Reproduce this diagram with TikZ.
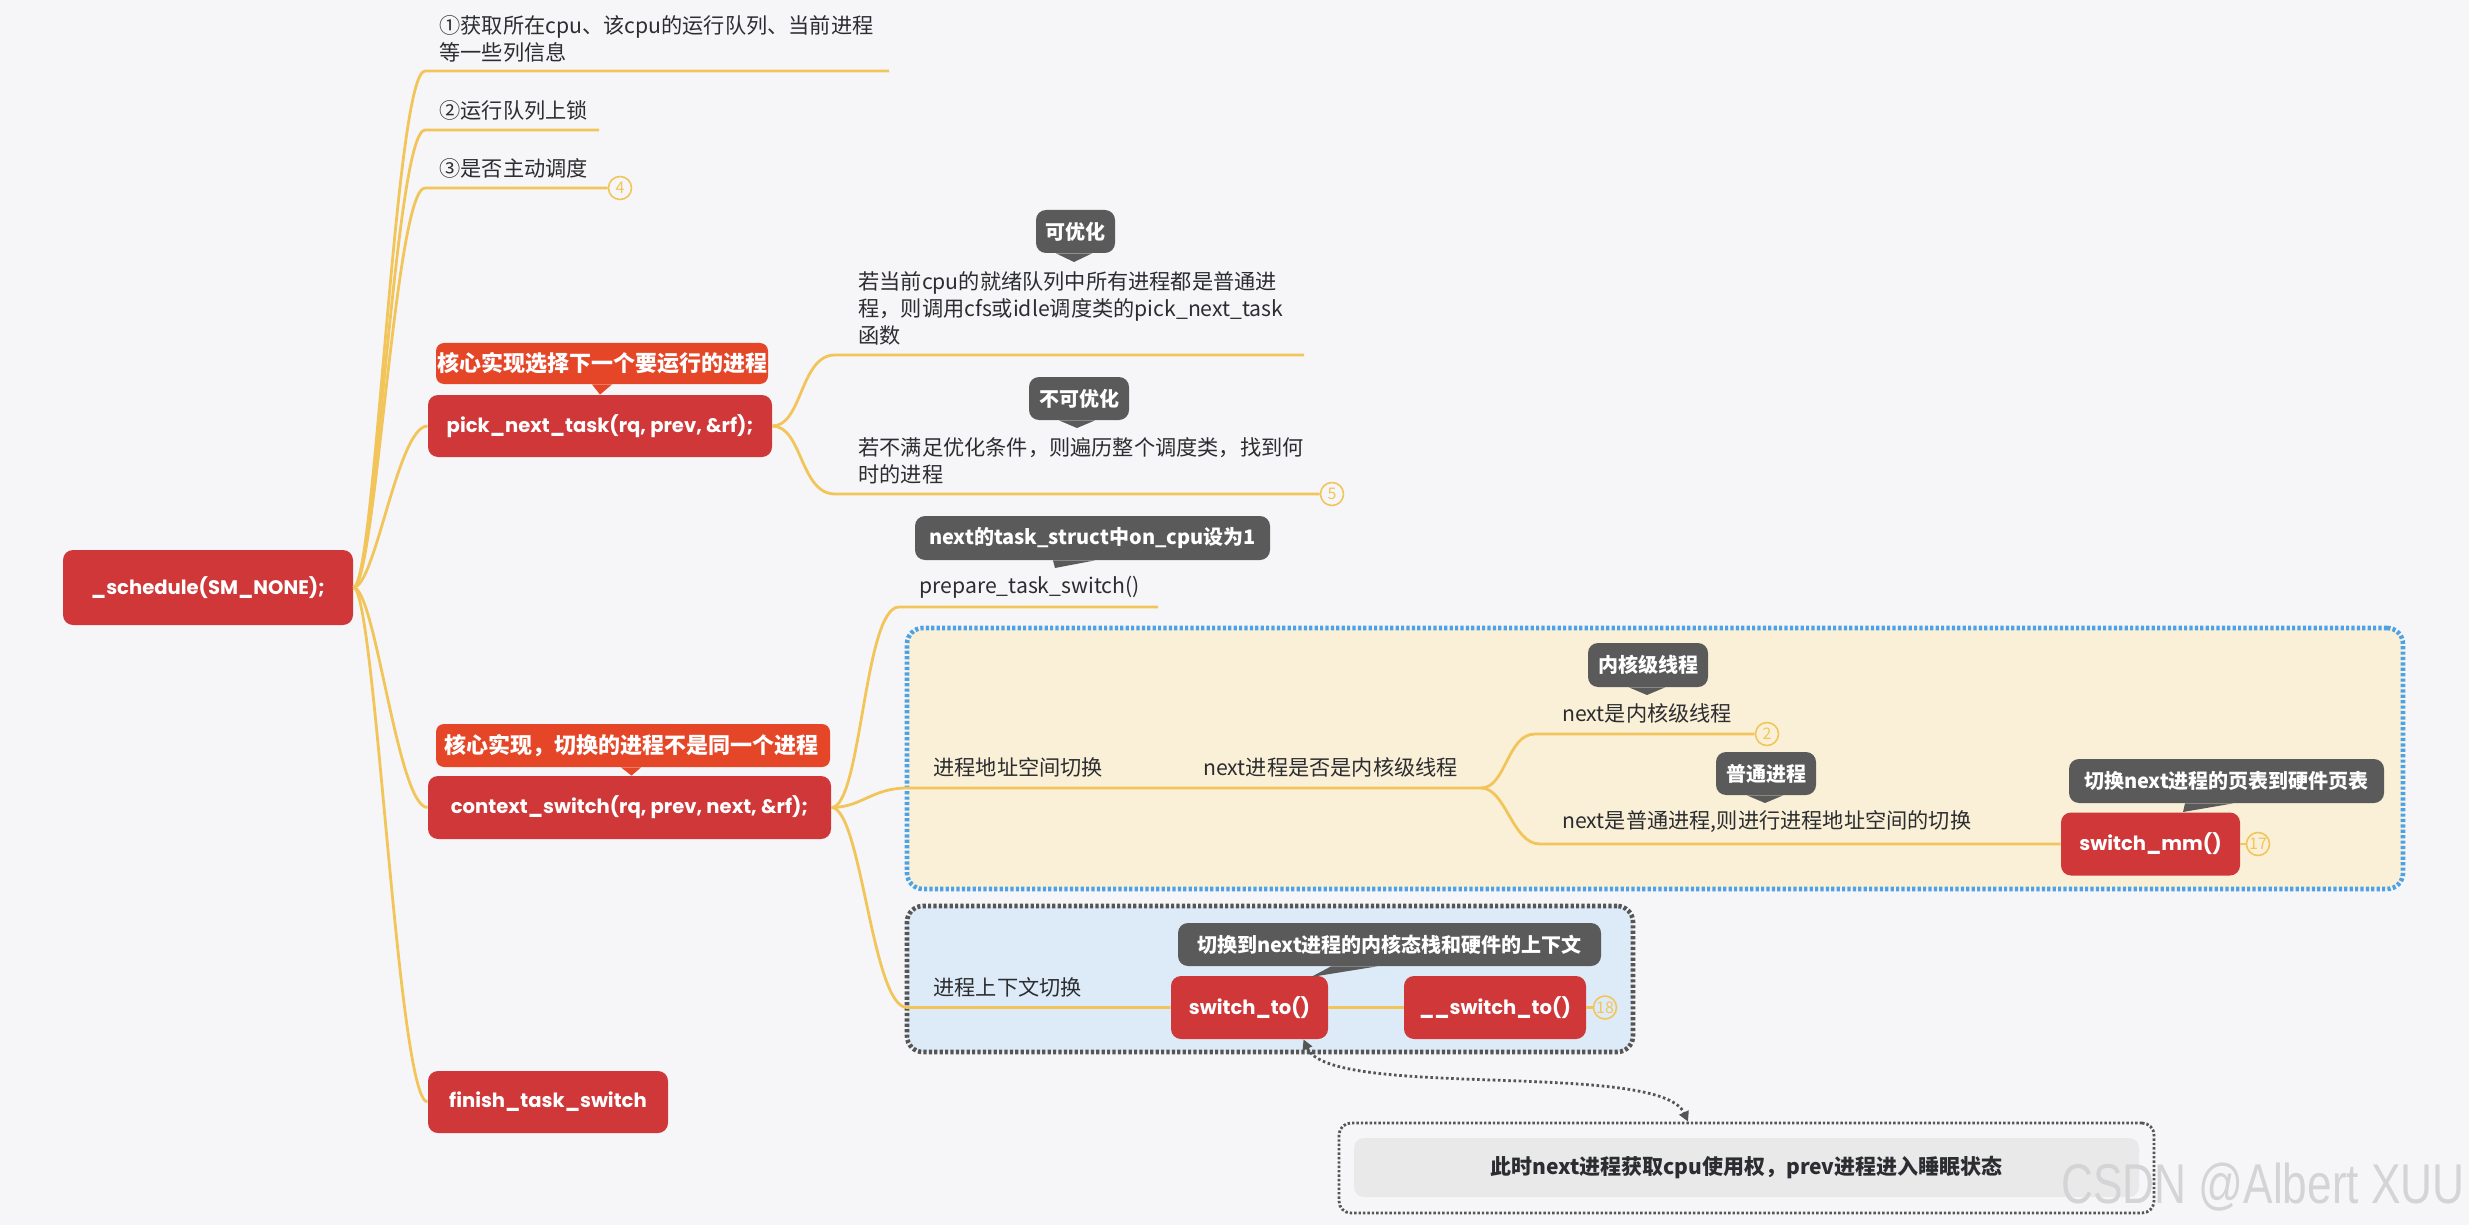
\documentclass[tikz,border=0pt]{standalone}
\usepackage{fontspec}
\setmainfont{Noto Sans CJK SC}
\newfontfamily\latfont{Poppins}
\newfontfamily\wmfont{Liberation Sans}
\usetikzlibrary{arrows.meta,calc}
\definecolor{bgc}{HTML}{F6F6F8}
\definecolor{redc}{HTML}{CF3739}
\definecolor{orgc}{HTML}{E64628}
\definecolor{dgc}{HTML}{5A5A5A}
\definecolor{ylc}{HTML}{F2C55B}
\definecolor{txc}{HTML}{2C2D30}
\definecolor{bluec}{HTML}{4CA2E6}
\definecolor{creamc}{HTML}{FAF0D8}
\definecolor{lbluec}{HTML}{DDEBF8}
\definecolor{greyb}{HTML}{555555}
\definecolor{notec}{HTML}{E9E9EA}
\definecolor{wmc}{HTML}{D4D4D6}
\begin{document}
\begin{tikzpicture}[x=0.5pt,y=-0.5pt,
  mainnode/.style={fill=redc, text=white, rounded corners=5pt, font=\latfont\bfseries\fontsize{9.8}{12}\selectfont, inner sep=0pt, align=center},
  lblnode/.style={fill=orgc, text=white, rounded corners=4pt, font=\bfseries\fontsize{11}{13}\selectfont, inner sep=0pt},
  callout/.style={fill=dgc, text=white, rounded corners=5pt, font=\bfseries\fontsize{10}{12}\selectfont, inner sep=0pt},
  txt/.style={text=txc, font=\fontsize{10.6}{13.5}\selectfont, inner sep=0pt, anchor=west, align=left},
  conn/.style={draw=ylc, line width=1.4pt},
  numc/.style={circle, draw=ylc, line width=0.8pt, text=ylc, minimum size=11.5pt, inner sep=0pt, font=\fontsize{8}{9}\selectfont},
  ptr/.style={fill=dgc},
  ptro/.style={fill=orgc}
]
\useasboundingbox[fill=bgc] (0,0) rectangle (2469,1225);

% group boxes
\node[draw=bluec, fill=creamc, line width=2.3pt, dash pattern=on 1.6pt off 1.1pt, rounded corners=8pt, minimum width=748pt, minimum height=130.5pt, inner sep=0pt] (gaddr) at (1655,758.5) {};
\node[draw=greyb, fill=lbluec, line width=2.3pt, dash pattern=on 1.6pt off 1.1pt, rounded corners=8pt, minimum width=363pt, minimum height=73pt, inner sep=0pt] (gctx) at (1270,979) {};

% main nodes
\node[mainnode, minimum width=145pt, minimum height=37.5pt] (root) at (208,587.5) {\_schedule(SM\_NONE);};
\node[mainnode, minimum width=172pt, minimum height=31pt] (pick) at (600,426) {pick\_next\_task(rq, prev, \&rf);};
\node[mainnode, minimum width=201.5pt, minimum height=31.5pt] (ctx) at (629.5,807.5) {context\_switch(rq, prev, next, \&rf);};
\node[mainnode, minimum width=120pt, minimum height=31pt] (fin) at (548,1102) {finish\_task\_switch};
\node[mainnode, minimum width=89.5pt, minimum height=31.5pt] (smm) at (2150.5,844) {switch\_mm()};
\node[mainnode, minimum width=78.5pt, minimum height=31.5pt] (sto) at (1249.5,1007.5) {switch\_to()};
\node[mainnode, minimum width=91pt, minimum height=31.5pt] (usto) at (1495,1007.5) {\_\_switch\_to()};

% orange labels
\node[lblnode, minimum width=166pt, minimum height=20.5pt] (lpick) at (602,363.5) {核心实现选择下一个要运行的进程};
\node[lblnode, minimum width=197pt, minimum height=21.5pt, text width=189pt, align=left] (lctx) at (633,745.5) {核心实现，切换的进程不是同一个进程};
\fill[ptro] ([xshift=-5pt]lpick.south) -- ([xshift=5pt]lpick.south) -- (pick.north) -- cycle;
\fill[ptro] ([xshift=-6pt]lctx.south) -- ([xshift=4pt]lctx.south) -- ([xshift=1pt]ctx.north) -- cycle;

% callouts
\node[callout, minimum width=39.5pt, minimum height=21.5pt] (co1) at (1075.5,231.5) {可优化};
\node[callout, minimum width=50pt, minimum height=21.5pt] (co2) at (1079,398.5) {不可优化};
\node[callout, minimum width=177.5pt, minimum height=22pt] (co3) at (1092.5,538) {next的task\_struct中on\_cpu设为1};
\node[callout, minimum width=60pt, minimum height=22pt] (co4) at (1648,665) {内核级线程};
\node[callout, minimum width=50pt, minimum height=21.5pt] (co5) at (1766,773.5) {普通进程};
\node[callout, minimum width=157.5pt, minimum height=22pt] (co6) at (2226.5,781) {切换next进程的页表到硬件页表};
\node[callout, minimum width=211.5pt, minimum height=21.5pt] (co7) at (1389.5,944.5) {切换到next进程的内核态栈和硬件的上下文};

\coordinate (tp1) at (1074,262);
\coordinate (tp2) at (1077,428);
\coordinate (tp3) at (1055,568);
\coordinate (tp4) at (1647,695);
\coordinate (tp5) at (1765,803);
\coordinate (tp6) at (2183,812);
\coordinate (tp7) at (1311,977);
\fill[ptr] ([xshift=-9]tp1 |- co1.south) -- ([xshift=9]tp1 |- co1.south) -- (tp1) -- cycle;
\fill[ptr] ([xshift=-9]tp2 |- co2.south) -- ([xshift=9]tp2 |- co2.south) -- (tp2) -- cycle;
\fill[ptr] ([xshift=-1]tp3 |- co3.south) -- ([xshift=20]tp3 |- co3.south) -- (tp3) -- cycle;
\fill[ptr] ([xshift=-9]tp4 |- co4.south) -- ([xshift=9]tp4 |- co4.south) -- (tp4) -- cycle;
\fill[ptr] ([xshift=-9]tp5 |- co5.south) -- ([xshift=9]tp5 |- co5.south) -- (tp5) -- cycle;
\fill[ptr] ([xshift=1]tp6 |- co6.south) -- ([xshift=25]tp6 |- co6.south) -- (tp6) -- cycle;
\fill[ptr] ([xshift=10]tp7 |- co7.south) -- ([xshift=33]tp7 |- co7.south) -- (tp7) -- cycle;

% text nodes
\node[txt] (t1) at (439,38.5) {①获取所在cpu、该cpu的运行队列、当前进程\\等一些列信息};
\node[txt] (t2) at (439,110) {②运行队列上锁};
\node[txt] (t3) at (439,168) {③是否主动调度};
\node[txt] (t4) at (858,308) {若当前cpu的就绪队列中所有进程都是普通进\\程，则调用cfs或idle调度类的pick\_next\_task\\函数};
\node[txt] (t5) at (858,461) {若不满足优化条件，则遍历整个调度类，找到何\\时的进程};
\node[txt] (t6) at (919,587) {prepare\_task\_switch()};
\node[txt] (t7) at (933,767) {进程地址空间切换};
\node[txt] (t8) at (1203,767) {next进程是否是内核级线程};
\node[txt] (t9) at (1562,713) {next是内核级线程};
\node[txt] (t10) at (1562,822) {next是普通进程,则进行进程地址空间的切换};
\node[txt] (t11) at (933,987) {进程上下文切换};

% number circles
\node[numc] (n4) at (620,188) {4};
\node[numc] (n5) at (1332,494) {5};
\node[numc] (n2) at (1767,734) {2};
\node[numc] (n17) at (2258,844) {17};
\node[numc] (n18) at (1605,1007.5) {18};

% line coordinates
\coordinate (a1s) at (425,71);  \coordinate (a1e) at (889,71);
\coordinate (a2s) at (425,130); \coordinate (a2e) at (599,130);
\coordinate (a3s) at (425,188);
\coordinate (b1s) at (835,355); \coordinate (b1e) at (1304,355);
\coordinate (b2s) at (835,494);
\coordinate (c1s) at (899,607); \coordinate (c1e) at (1158,607);
\coordinate (c2s) at (907,788); \coordinate (bp) at (1481,788);
\coordinate (c3s) at (907,1007.5);
\coordinate (d1s) at (1535,734);
\coordinate (d2s) at (1540,844);

% connectors from root
\draw[conn] (root.east) .. controls +(22,0) and +(-30,0) .. (a1s) -- (a1e);
\draw[conn] (root.east) .. controls +(22,0) and +(-30,0) .. (a2s) -- (a2e);
\draw[conn] (root.east) .. controls +(22,0) and +(-30,0) .. (a3s) -- (n4.west);
\draw[conn] (root.east) .. controls +(22,0) and +(-30,0) .. (pick.west);
\draw[conn] (root.east) .. controls +(22,0) and +(-30,0) .. (ctx.west);
\draw[conn] (root.east) .. controls +(22,0) and +(-30,0) .. (fin.west);
% from pick
\draw[conn] (pick.east) .. controls +(30,0) and +(-35,0) .. (b1s) -- (b1e);
\draw[conn] (pick.east) .. controls +(30,0) and +(-35,0) .. (b2s) -- (n5.west);
% from ctx
\draw[conn] (ctx.east) .. controls +(30,0) and +(-35,0) .. (c1s) -- (c1e);
\draw[conn] (ctx.east) .. controls +(30,0) and +(-35,0) .. (c2s) -- (bp);
\draw[conn] (ctx.east) .. controls +(30,0) and +(-35,0) .. (c3s) -- (sto.west);
\draw[conn] (bp) .. controls +(25,0) and +(-28,0) .. (d1s) -- (n2.west);
\draw[conn] (bp) .. controls +(25,0) and +(-28,0) .. (d2s) -- (smm.west);
\draw[conn] (smm.east) -- (n17.west);
\draw[conn] (sto.east) -- (usto.west);
\draw[conn] (usto.east) -- (n18.west);

% bottom note
\node[draw=greyb, line width=1.4pt, dash pattern=on 1.2pt off 1pt, rounded corners=6pt, minimum width=407.5pt, minimum height=45pt, inner sep=0pt] (noteo) at (1746.5,1168) {};
\node[fill=notec, rounded corners=5pt, minimum width=392.5pt, minimum height=29.5pt, inner sep=0pt, text=txc, font=\bfseries\fontsize{10.5}{12}\selectfont] (note) at (1746.5,1167.5) {此时next进程获取cpu使用权，prev进程进入睡眠状态};

\draw[draw=greyb, line width=1.4pt, dash pattern=on 1.3pt off 1.3pt, {Triangle[width=5pt,length=5pt]}-{Triangle[width=5pt,length=5pt]}]
  ([xshift=27pt]sto.south) .. controls (1330,1100) and (1660,1060) .. ([xshift=-29.25pt]noteo.north);

% watermark
\node[text=wmc, font=\wmfont\fontsize{28}{30}\selectfont, xscale=0.79, inner sep=0pt] (wm) at (2263,1187) {CSDN @Albert XUU};
\end{tikzpicture}
\end{document}
